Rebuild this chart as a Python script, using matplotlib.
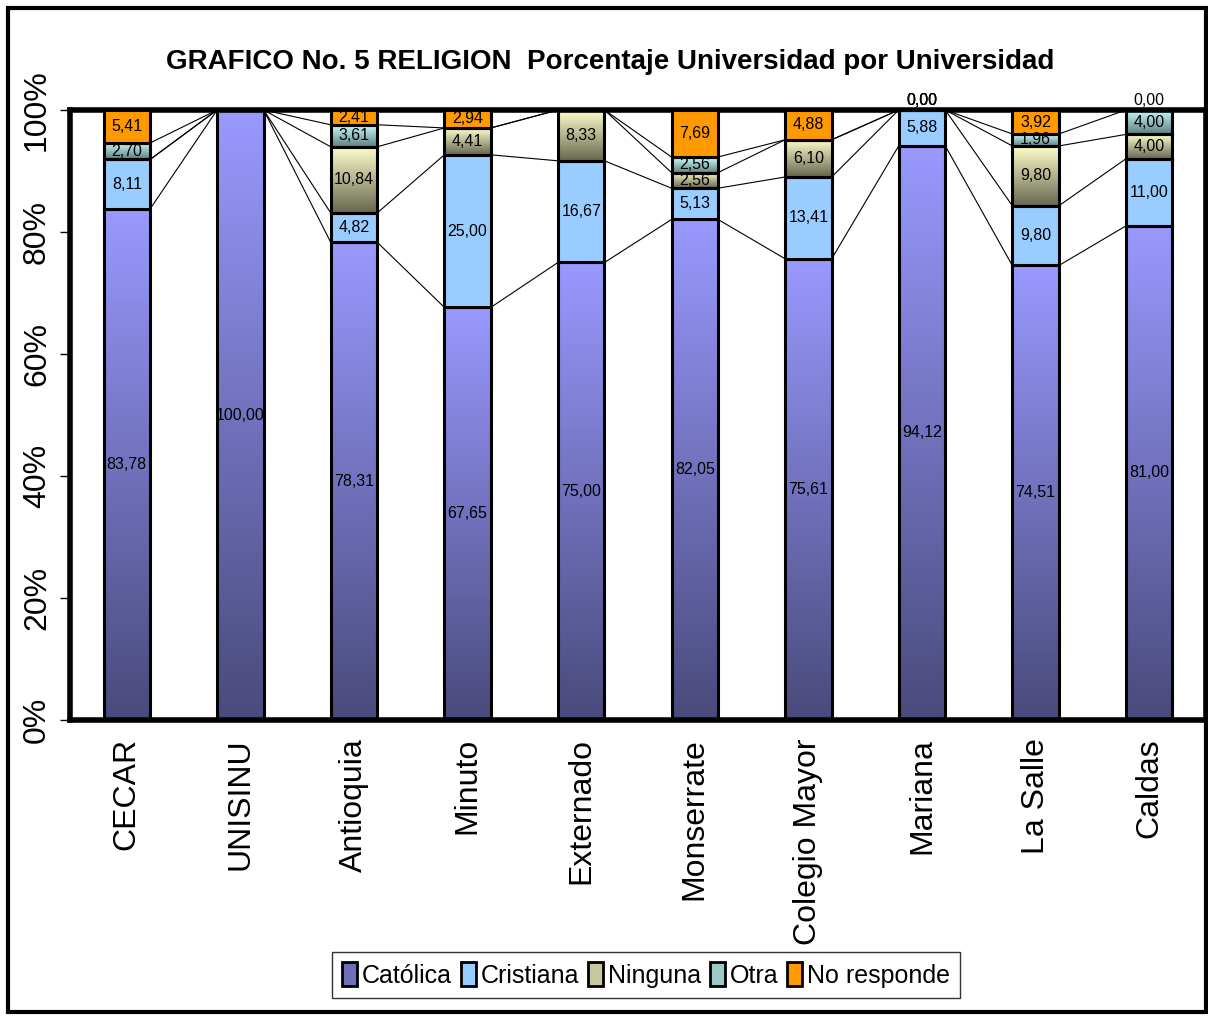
import numpy as np
import matplotlib
matplotlib.use("Agg")
import matplotlib.pyplot as plt
from matplotlib.colors import LinearSegmentedColormap
from matplotlib.patches import Rectangle, Patch
from matplotlib import font_manager

universidades = ["CECAR", "UNISINU", "Antioquia", "Minuto", "Externado",
                 "Monserrate", "Colegio Mayor", "Mariana", "La Salle", "Caldas"]
series_names = ["Católica", "Cristiana", "Ninguna", "Otra", "No responde"]
catolica = [83.78, 100.00, 78.31, 67.65, 75.00, 82.05, 75.61, 94.12, 74.51, 81.00]
cristiana = [8.11, 0, 4.82, 25.00, 16.67, 5.13, 13.41, 5.88, 9.80, 11.00]
ninguna = [0, 0, 10.84, 4.41, 8.33, 2.56, 6.10, 0.00, 9.80, 4.00]
otra = [2.70, 0, 3.61, 0, 0, 2.56, 0, 0.00, 1.96, 4.00]
no_responde = [5.41, 0, 2.41, 2.94, 0, 7.69, 4.88, 0.00, 3.92, 0.00]
# which zero values are shown as labels (present as 0 in the source table)
show_zero = {(2, 7), (3, 7), (4, 7), (4, 9)}
y_ticks = [0, 20, 40, 60, 80, 100]
y_tick_labels = ["0%", "20%", "40%", "60%", "80%", "100%"]
title = "GRAFICO No. 5 RELIGION  Porcentaje Universidad por Universidad"

data = [catolica, cristiana, ninguna, otra, no_responde]

avail = {f.name for f in font_manager.fontManager.ttflist}
narrow = "Liberation Sans Narrow" if "Liberation Sans Narrow" in avail else "Liberation Sans"

fills = [
    ("grad", "#4a4a7c", "#9999ff"),
    ("flat", "#99ccff", None),
    ("grad", "#66664f", "#ffffcc"),
    ("grad", "#5f7f7f", "#ccffff"),
    ("flat", "#ff9900", None),
]

fig = plt.figure(figsize=(12.08, 10.16), dpi=100)
ax = fig.add_axes([70 / 1208, 1 - 720 / 1016, (1206 - 70) / 1208, 610 / 1016])

x = np.arange(len(universidades))
width = 0.41
bottom = np.zeros(len(universidades))
tops = []
for s, vals in enumerate(data):
    vals = np.array(vals, dtype=float)
    kind, c1, c2 = fills[s]
    bars = ax.bar(x, vals, width, bottom=bottom,
                  facecolor=(c1 if kind == "flat" else "none"),
                  edgecolor="black", linewidth=2.2, zorder=3)
    if kind == "grad":
        cmap = LinearSegmentedColormap.from_list(f"g{s}", [c1, c2])
        grad = np.linspace(0, 1, 256).reshape(-1, 1)
        for r in bars:
            if r.get_height() <= 0:
                continue
            ax.imshow(grad, extent=[r.get_x(), r.get_x() + r.get_width(),
                                    r.get_y(), r.get_y() + r.get_height()],
                      origin="lower", aspect="auto", cmap=cmap, zorder=2,
                      interpolation="bilinear")
    for i, r in enumerate(bars):
        v = vals[i]
        if v > 0 or (s, i) in show_zero:
            cy = r.get_y() + r.get_height() / 2
            if v == 0:
                cy = 101.5
            ax.text(r.get_x() + r.get_width() / 2, cy, f"{v:.2f}".replace(".", ","),
                    ha="center", va="center", fontsize=11.5, family=[narrow, "DejaVu Sans"],
                    color="black", zorder=5)
    bottom = bottom + vals
    tops.append(bottom.copy())

# series lines
for s in range(len(data)):
    t = tops[s]
    for i in range(len(x) - 1):
        ax.plot([x[i] + width / 2, x[i + 1] - width / 2], [t[i], t[i + 1]],
                color="black", lw=0.8, zorder=1)

ax.set_xlim(-0.5, len(x) - 0.5)
ax.set_ylim(0, 100)
ax.set_yticks(y_ticks)
ax.set_yticklabels(y_tick_labels, rotation=90, va="center",
                   fontsize=23, family="Liberation Sans")
ax.set_xticks(x)
ax.set_xticklabels(universidades, rotation=90, ha="center", va="top",
                   fontsize=23, family="Liberation Sans")
ax.tick_params(axis="x", length=0, pad=13)
ax.tick_params(axis="y", length=7, width=1, pad=6, direction="out")
for sp in ax.spines.values():
    sp.set_linewidth(4)
    sp.set_color("black")

fig.text(0.505, 1 - 62 / 1016, title, ha="center", va="center",
         fontsize=20, fontweight="bold", family=[narrow, "DejaVu Sans"])

handles = []
for s in range(len(series_names)):
    kind, c1, c2 = fills[s]
    fc = c1 if kind == "flat" else c2
    if s == 0:
        fc = "#6f6fbb"
    elif s == 2:
        fc = "#c8c8a0"
    elif s == 3:
        fc = "#9cc8c8"
    handles.append(Patch(facecolor=fc, edgecolor="black", linewidth=2))
leg = fig.legend(handles, series_names, loc="center", bbox_to_anchor=(646 / 1208, 1 - 975 / 1016),
                 ncol=5, frameon=True, fancybox=False, edgecolor="black",
                 prop={"family": narrow, "size": 18}, handlelength=0.6, handleheight=1.1,
                 handletextpad=0.2, columnspacing=0.35, borderpad=0.4)
leg.get_frame().set_linewidth(1)

fig.add_artist(Rectangle((8 / 1208, 4 / 1016), (1206 - 8) / 1208, (1008 - 4) / 1016,
                         transform=fig.transFigure, fill=False, edgecolor="black", linewidth=3))

fig.savefig("out.png", dpi=100)
